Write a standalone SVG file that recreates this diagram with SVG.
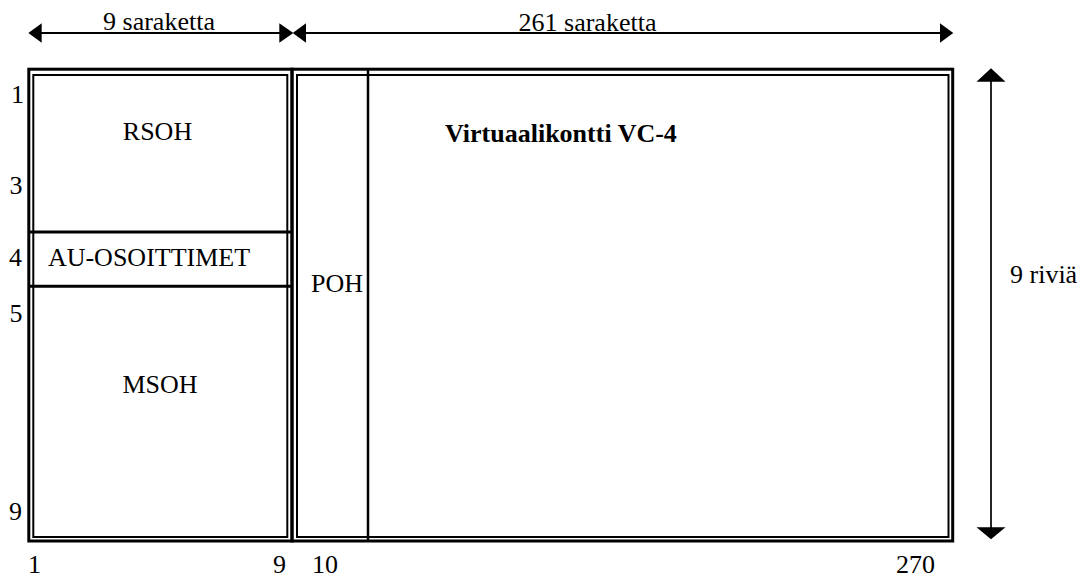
<svg xmlns="http://www.w3.org/2000/svg" width="1087" height="577" viewBox="0 0 1087 577">
<style>
  text { font-family: "Liberation Serif", "Times New Roman", serif; font-size: 26px; fill: #000; }
  .b { font-weight: bold; }
  .outer { fill: none; stroke: #000; stroke-width: 3; }
  .inner { fill: none; stroke: #000; stroke-width: 2; }
  .sep { stroke: #000; stroke-width: 3; }
  .dim { stroke: #000; stroke-width: 2; fill: none; }
  .head { fill: #000; stroke: none; }
</style>
<rect width="1087" height="577" fill="#fff"/>

<g id="soh-frame">
  <rect class="outer" x="28.8" y="69.2" width="263.2" height="471.8"/>
  <rect class="inner" x="33.3" y="75" width="254" height="462"/>
  <line class="sep" x1="29" y1="232" x2="292" y2="232"/>
  <line class="sep" x1="29" y1="286.3" x2="292" y2="286.3"/>
</g>
<g id="rsoh"><text x="157.5" y="140" text-anchor="middle">RSOH</text></g>
<g id="au-osoittimet"><text x="149" y="266" text-anchor="middle">AU-OSOITTIMET</text></g>
<g id="msoh"><text x="160" y="393.3" text-anchor="middle">MSOH</text></g>

<g id="vc4-frame">
  <rect class="outer" x="292" y="69.2" width="660.7" height="471.8"/>
  <rect class="inner" x="297" y="75" width="651.5" height="462"/>
  <line class="dim" x1="368" y1="69" x2="368" y2="541" style="stroke-width:2.5"/>
</g>
<g id="poh"><text x="337" y="291.7" text-anchor="middle">POH</text></g>
<g id="vc4-label"><text class="b" x="445" y="141.7">Virtuaalikontti VC-4</text></g>

<g id="row-labels">
  <text x="11" y="103">1</text>
  <text x="9.5" y="194">3</text>
  <text x="9" y="266">4</text>
  <text x="9.5" y="321.7">5</text>
  <text x="9" y="520">9</text>
</g>
<g id="col-labels">
  <text x="28" y="573">1</text>
  <text x="273" y="573">9</text>
  <text x="312" y="573">10</text>
  <text x="896" y="573">270</text>
</g>

<g id="connectors">
  <line class="dim" x1="40" y1="33" x2="281" y2="33"/>
  <polygon class="head" points="28.3,33 41.7,23.3 41.7,42.7"/>
  <polygon class="head" points="293.3,33 279.3,23.3 279.3,42.7"/>
  <line class="dim" x1="305" y1="33" x2="942" y2="33"/>
  <polygon class="head" points="292.7,33 306,23.3 306,42.7"/>
  <polygon class="head" points="953.3,33 940,23.3 940,42.7"/>
  <line class="dim" x1="991" y1="80" x2="991" y2="528" style="stroke-width:1.7"/>
  <polygon class="head" points="991,68.3 976.5,81.7 1005.5,81.7"/>
  <polygon class="head" points="991,539.3 976.5,527.3 1005.5,527.3"/>
</g>
<g id="dim-labels">
  <text x="159" y="30" text-anchor="middle">9 saraketta</text>
  <text x="587.5" y="30.5" text-anchor="middle">261 saraketta</text>
  <text x="1010" y="283.3">9 riviä</text>
</g>
</svg>
